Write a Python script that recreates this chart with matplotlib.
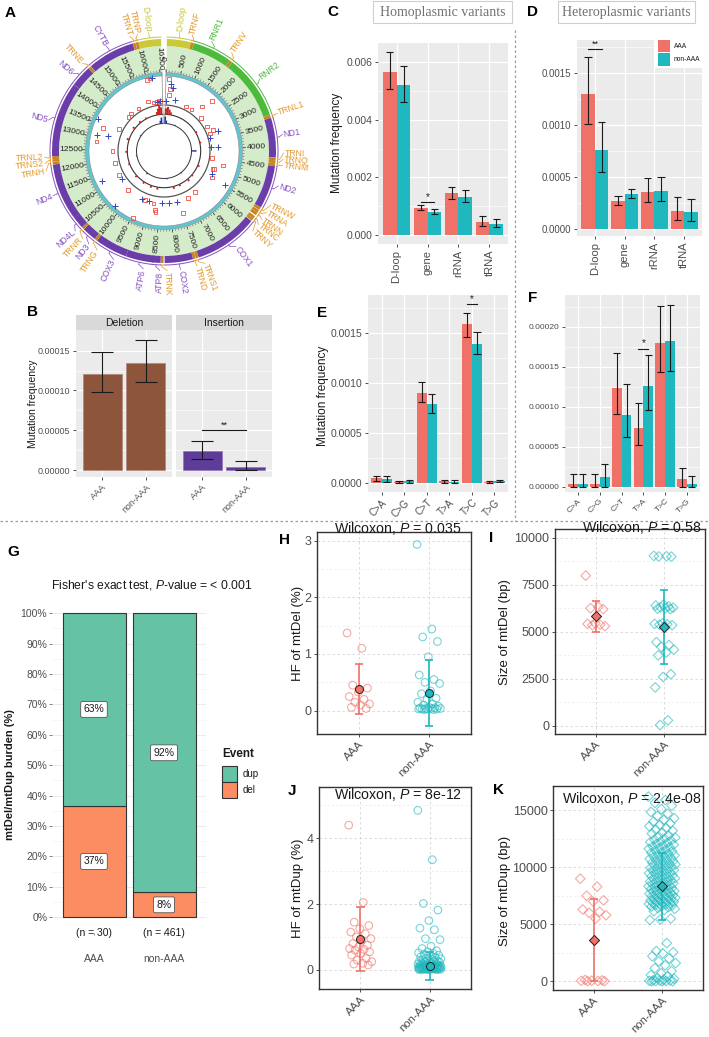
import numpy as np
import matplotlib
matplotlib.use("Agg")
import matplotlib.pyplot as plt
from matplotlib.patches import Rectangle
from matplotlib.lines import Line2D

plt.rcParams['font.family'] = ['Liberation Sans', 'DejaVu Sans']
plt.rcParams['mathtext.fontset'] = 'custom'
plt.rcParams['mathtext.rm'] = 'Liberation Sans'
plt.rcParams['mathtext.it'] = 'Liberation Sans:italic'

# ======================= DATA =======================
genome_length = 16569
gene_names = ['D-loop', 'D-loop', 'TRNF', 'RNR1', 'TRNV', 'RNR2', 'TRNL1', 'ND1', 'TRNI', 'TRNQ', 'TRNM',
              'ND2', 'TRNW', 'TRNA', 'TRNN', 'TRNC', 'TRNY', 'COX1', 'TRNS1', 'TRND', 'COX2', 'TRNK',
              'ATP8', 'ATP6', 'COX3', 'TRNG', 'ND3', 'TRNR', 'ND4L', 'ND4', 'TRNH', 'TRNS2', 'TRNL2',
              'ND5', 'ND6', 'TRNE', 'CYTB', 'TRNT', 'TRNP']
gene_start = [16024, 1, 577, 648, 1602, 1671, 3230, 3307, 4263, 4329, 4402, 4470, 5512, 5587, 5657,
              5761, 5826, 5904, 7446, 7518, 7586, 8295, 8366, 8527, 9207, 9991, 10059, 10405, 10470,
              10760, 12138, 12207, 12266, 12337, 14149, 14674, 14747, 15888, 15956]
gene_end = [16569, 576, 647, 1601, 1670, 3229, 3304, 4262, 4331, 4400, 4469, 5511, 5579, 5655, 5729,
            5826, 5891, 7445, 7514, 7585, 8269, 8364, 8572, 9207, 9990, 10058, 10404, 10469, 10766,
            12137, 12206, 12265, 12336, 14148, 14673, 14742, 15887, 15953, 16023]
gene_type = ['dloop', 'dloop', 'trna', 'rrna', 'trna', 'rrna', 'trna', 'prot', 'trna', 'trna', 'trna',
             'prot', 'trna', 'trna', 'trna', 'trna', 'trna', 'prot', 'trna', 'trna', 'prot', 'trna',
             'prot', 'prot', 'prot', 'trna', 'prot', 'trna', 'prot', 'prot', 'trna', 'trna', 'trna',
             'prot', 'prot', 'trna', 'prot', 'trna', 'trna']

# heteroplasmic / homoplasmic sites (position bp, relative track height 0-1)
red_pos = [16002, 116, 186, 167, 1954, 1824, 1490, 1137, 15821, 16080, 16266, 16424, 15199, 14726,
           14503, 13668, 13413, 12832, 12461, 11812, 11162, 10252, 9259, 8818, 8688, 8656, 9445, 7486,
           7022, 6553, 5449, 5035, 5058, 4511, 3133, 2729, 2158, 3040, 4752, 16118]
red_val = [0.96, 0.93, 0.57, 0.34, 0.82, 0.43, 0.11, 0.09, 0.18, 0.10, 0.10, 0.12, 0.10, 0.11, 0.09,
           0.11, 0.66, 0.78, 0.17, 0.13, 0.15, 0.22, 0.21, 0.24, 0.47, 0.55, 1.00, 0.67, 0.23, 0.16,
           0.30, 0.23, 0.18, 0.05, 0.08, 0.08, 0.10, 0.24, 0.52, 1.00]
blue_pos = [16220, 209, 13658, 13157, 11268, 10930, 16243, 16424, 19, 3393, 3861, 5305, 5453, 3894,
            7634, 8052, 8405, 9073, 9445, 10233, 13064, 3179, 316, 520]
blue_val = [1.00, 0.74, 0.99, 0.39, 0.82, 0.13, 0.11, 0.10, 0.10, 0.03, 0.00, 0.25, 0.85, 0.25,
            0.19, 0.18, 0.17, 0.18, 0.22, 1.00, 0.82, 0.39, 0.62, 0.19]
# density tracks (bin centre bp, bar height)
red_bin_pos = [16150, 16250, 16350, 16450, 60, 180, 300, 420, 2700, 3500, 5200, 6000, 6430, 7130,
               7590, 8750, 9220, 9800, 10500, 11500, 12400, 13300, 14200, 14800, 15300]
red_bin_h = [3, 6, 8.5, 7, 6, 7.5, 5, 2.5, 1.5, 1.5, 2, 1.5, 2.5, 2, 2.5, 2.5, 2.5, 2, 2, 1.5, 2, 2.5,
             2.5, 2, 1.5]
blue_bin_pos = [16300, 16420, 30, 150, 4100, 1000, 6500, 8000, 10000, 12000, 14000]
blue_bin_h = [3, 6, 7, 3, 5, 1, 1, 1, 1.5, 1, 1]

# B: indel mutation frequency
b_groups = ['AAA', 'non-AAA']
b_del = [0.000121, 0.000135]
b_del_lo = [0.000098, 0.000111]
b_del_hi = [0.000148, 0.000163]
b_ins = [0.000024, 0.000004]
b_ins_lo = [0.000014, 0.0000005]
b_ins_hi = [0.000037, 0.000011]

# C: homoplasmic by region
region_cats = ['D-loop', 'gene', 'rRNA', 'tRNA']
c_aaa = [0.00567, 0.00095, 0.00145, 0.00047]
c_aaa_lo = [0.00505, 0.00088, 0.00125, 0.00030]
c_aaa_hi = [0.00635, 0.00104, 0.00167, 0.00065]
c_non = [0.00521, 0.00080, 0.00133, 0.00040]
c_non_lo = [0.00462, 0.00072, 0.00114, 0.00027]
c_non_hi = [0.00587, 0.00089, 0.00155, 0.00057]

# D: heteroplasmic by region
d_aaa = [0.00130, 0.00027, 0.00036, 0.00018]
d_aaa_lo = [0.00101, 0.00023, 0.00026, 0.00009]
d_aaa_hi = [0.00165, 0.00032, 0.00049, 0.00031]
d_non = [0.00076, 0.00034, 0.00037, 0.00017]
d_non_lo = [0.00055, 0.00030, 0.00027, 0.00008]
d_non_hi = [0.00103, 0.00039, 0.00050, 0.00029]

# E / F: substitution types
sub_cats = ['C>A', 'C>G', 'C>T', 'T>A', 'T>C', 'T>G']
e_aaa = [0.000050, 0.000012, 0.000905, 0.000020, 0.001585, 0.000012]
e_aaa_lo = [0.000025, 0.000003, 0.000810, 0.000006, 0.001460, 0.000003]
e_aaa_hi = [0.000072, 0.000022, 0.001010, 0.000036, 0.001700, 0.000021]
e_non = [0.000042, 0.000020, 0.000790, 0.000015, 0.001390, 0.000020]
e_non_lo = [0.000015, 0.000006, 0.000700, 0.000005, 0.001290, 0.000010]
e_non_hi = [0.000070, 0.000034, 0.000890, 0.000028, 0.001510, 0.000030]
f_aaa = [0.000003, 0.000003, 0.000124, 0.000074, 0.000180, 0.000010]
f_aaa_lo = [0.0, 0.0, 0.000091, 0.000052, 0.000143, 0.0]
f_aaa_hi = [0.000016, 0.000016, 0.000168, 0.000105, 0.000226, 0.000024]
f_non = [0.000003, 0.000012, 0.000090, 0.000126, 0.000183, 0.000003]
f_non_lo = [0.0, 0.0, 0.000062, 0.000096, 0.000145, 0.0]
f_non_hi = [0.000016, 0.000028, 0.000128, 0.000165, 0.000228, 0.000013]

# G: mtDel / mtDup burden
g_groups = ['AAA', 'non-AAA']
g_n = [30, 461]
g_del = [0.367, 0.082]
g_dup = [0.633, 0.918]
g_del_lab = ['37%', '8%']
g_dup_lab = ['63%', '92%']

# H: HF of mtDel (%)
h_aaa = [1.37, 1.10, 0.45, 0.40, 0.33, 0.25, 0.20, 0.15, 0.12, 0.10, 0.06, 0.04]
h_non = [2.93, 1.44, 1.30, 1.22, 0.95, 0.63, 0.55, 0.50, 0.48, 0.35, 0.30, 0.22, 0.20, 0.15, 0.12,
         0.10, 0.08, 0.06, 0.05, 0.05, 0.04, 0.04, 0.04, 0.03, 0.03, 0.03, 0.03, 0.02, 0.02]
h_mean = [0.39, 0.32]
h_lo = [-0.05, -0.27]
h_hi = [0.82, 0.90]

# I: size of mtDel (bp)
i_aaa = [7980, 6320, 6250, 6200, 5450, 5420, 5380, 5350, 5300]
i_non = [9030, 9010, 9000, 8990, 6450, 6400, 6350, 6300, 6280, 6250, 6220, 6200, 5450, 5420, 5400,
         5380, 5350, 5300, 4450, 4300, 4200, 4050, 3900, 3750, 2750, 2600, 2050, 300, 50]
i_mean = [5840, 5280]
i_lo = [5010, 3280]
i_hi = [6650, 7230]

# J: HF of mtDup (%)
j_aaa = [4.40, 2.05, 1.45, 1.35, 1.25, 1.15, 1.10, 1.00, 0.95, 0.90, 0.80, 0.75, 0.70, 0.65, 0.62,
         0.60, 0.55, 0.50, 0.45, 0.35, 0.30, 0.25, 0.20, 0.18, 0.15]
j_non = [4.85, 3.35, 2.02, 1.82, 1.50, 1.27, 1.22, 0.95, 0.92, 0.72, 0.65, 0.58, 0.55, 0.52, 0.50,
         0.48, 0.45, 0.42, 0.40, 0.38, 0.36, 0.34, 0.32, 0.30, 0.28, 0.27, 0.26, 0.25, 0.24, 0.23,
         0.22, 0.21, 0.20, 0.19, 0.18, 0.17, 0.16, 0.15, 0.15, 0.14, 0.14, 0.13, 0.13, 0.12, 0.12,
         0.11, 0.11, 0.10, 0.10, 0.10, 0.09, 0.09, 0.09, 0.08, 0.08, 0.08, 0.07, 0.07, 0.07, 0.06,
         0.06, 0.06, 0.05, 0.05, 0.05, 0.05, 0.04, 0.04, 0.04, 0.04, 0.03, 0.03, 0.03, 0.03, 0.02,
         0.02, 0.02, 0.02, 0.01, 0.01, 0.01, 0.01]
j_mean = [0.93, 0.12]
j_lo = [-0.04, -0.30]
j_hi = [1.91, 0.55]

# K: size of mtDup (bp)
k_aaa = [9000, 8300, 7500, 7100, 7000, 6300, 6100, 6000, 5800, 5500, 120, 80, 60, 40, 30, 20, 10]
k_non = [16200, 15900, 15650, 15400, 15100, 14850, 14700, 14500, 14300, 14150, 14000, 13850, 13700,
         13600, 13450, 13300, 13200, 13050, 12950, 12800, 12700, 12600, 12520, 12430, 12350, 12280,
         12200, 12130, 12050, 11980, 11900, 11830, 11760, 11700, 11620, 11550, 11480, 11400, 11330,
         11270, 11200, 11130, 11060, 11000, 10930, 10870, 10800, 10740, 10680, 10610, 10550, 10490,
         10420, 10360, 10300, 10240, 10180, 10120, 10060, 10000, 9950, 9890, 9830, 9770, 9710, 9650,
         9600, 9540, 9480, 9420, 9370, 9310, 9250, 9200, 9140, 9080, 9030, 8970, 8920, 8860, 8810,
         8750, 8700, 8650, 8590, 8540, 8490, 8430, 8380, 8330, 8280, 8230, 8180, 8130, 8080, 8030,
         7980, 7930, 7880, 7830, 7790, 7740, 7690, 7640, 7600, 7550, 7500, 7460, 7410, 7370, 7320,
         7280, 7230, 7190, 7150, 7100, 7060, 7020, 6980, 6940, 6900, 6860, 6820, 6780, 6740, 6700,
         6650, 6600, 6550, 6500, 6430, 6350, 6250, 6150, 5500, 5430, 5380,
         3350, 2650, 2550, 2450, 2200, 2000, 1750, 1600, 1400, 1150, 900, 700, 550, 450, 300, 220,
         150, 100, 80, 60, 40, 30, 20, 10, 5, 0]
k_mean = [3600, 8340]
k_lo = [0, 5400]
k_hi = [7180, 11290]

# ======================= LAYOUT / STYLE =======================
W, H = 709, 1037
fig = plt.figure(figsize=(W / 100, H / 100), dpi=100)

C_AAA = '#F07167'
C_NON = '#1FB8BE'
TXT = '#4D4D4D'


def add_ax(x0, y0, x1, y1, **kw):
    return fig.add_axes([x0 / W, 1 - y1 / H, (x1 - x0) / W, (y1 - y0) / H], **kw)


def ftext(x, y, s, **kw):
    return fig.text(x / W, 1 - y / H, s, **kw)


def frect(x0, y0, x1, y1, **kw):
    fig.add_artist(Rectangle((x0 / W, 1 - y1 / H), (x1 - x0) / W, (y1 - y0) / H,
                             transform=fig.transFigure, **kw))


def fline(xs, ys, **kw):
    fig.add_artist(Line2D([x / W for x in xs], [1 - y / H for y in ys],
                          transform=fig.transFigure, **kw))


def panel_label(x, y, s):
    ftext(x, y, s, fontsize=11, fontweight='bold', ha='center', va='center', color='black')


# ======================= A: circos =======================
GAP = 3.0


def th(pos):
    return np.deg2rad(GAP / 2 + np.asarray(pos, dtype=float) / genome_length * (360 - GAP))


CX, CY = 164, 151
axA = add_ax(CX - 122, CY - 122, CX + 122, CY + 122, projection='polar')
axA.set_theta_zero_location('N')
axA.set_theta_direction(-1)
axA.set_ylim(0, 122)
axA.set_axis_off()

band_col = {'dloop': '#C9C93A', 'trna': '#C98420', 'rrna': '#4CBB3C', 'prot': '#6A3DA8'}
lab_col = {'dloop': '#C6C63C', 'trna': '#E39A2E', 'rrna': '#4DBA3E', 'prot': '#8650C0'}
label_deg = [352.6, 7.4, 13.7, 23.5, 34.5, 53, 71.6, 82, 91, 94, 97, 107, 117, 121, 125, 128, 132,
             143, 160, 164, 172, 178.5, 182, 190, 205, 214, 219, 223, 228, 248, 260.4, 264, 267.1,
             285, 310.4, 317, 331.2, 343.4, 347.2]

t_all0, t_all1 = th(0), th(genome_length)
axA.bar((t_all0 + t_all1) / 2, 26, width=t_all1 - t_all0, bottom=79, color='#D5ECCA',
        edgecolor='none', linewidth=0)
axA.bar((t_all0 + t_all1) / 2, 3.6, width=t_all1 - t_all0, bottom=75, color='#62C4CF',
        edgecolor='#8A8A8A', linewidth=0.4)
axA.vlines(th(np.arange(0, genome_length, 100)), 79, 80.6, color='#444444', lw=0.35)
axA.vlines(th(np.arange(0, genome_length, 500)), 79, 82.0, color='#333333', lw=0.5)
for p in range(0, 16501, 500):
    a = np.rad2deg(th(p))
    rot = 90 - a if a <= 180 else 270 - a
    axA.text(th(p), 92.5, str(p), rotation=rot, rotation_mode='anchor', ha='center', va='center',
             fontsize=6.1, color='#222222')

for nm, s, e, t, la in zip(gene_names, gene_start, gene_end, gene_type, label_deg):
    t0, t1 = th(s), th(e)
    axA.bar((t0 + t1) / 2, 7, width=t1 - t0, bottom=105, color=band_col[t], edgecolor='none',
            linewidth=0)
    tt = np.linspace(t0, t1, 40)
    axA.plot(tt, np.full_like(tt, 114.0), color=lab_col[t], lw=0.7)
    mid = (t0 + t1) / 2
    lr = np.deg2rad(la)
    axA.plot([mid, mid], [114, 116], color=lab_col[t], lw=0.5)
    axA.plot(np.linspace(mid, lr, 10), np.linspace(116, 119.5, 10), color=lab_col[t], lw=0.5)
    if la <= 180:
        rot, ha = 90 - la, 'left'
    else:
        rot, ha = 270 - la, 'right'
    axA.text(lr, 120.5, nm, rotation=rot, rotation_mode='anchor', ha=ha, va='center',
             fontsize=6.2, color=lab_col[t])

axA.scatter(th(red_pos), 47 + np.array(red_val) * 27, marker='s', facecolors='none',
            edgecolors='#F0504A', s=7, linewidths=0.6, zorder=4)
axA.scatter(th(blue_pos), 47 + np.array(blue_val) * 27, marker='+', color='#3848C0', s=14,
            linewidths=0.7, zorder=4)
tt = np.linspace(t_all0, t_all1, 400)
axA.plot(tt, np.full_like(tt, 46.0), color='#555555', lw=0.9)
axA.plot(tt, np.full_like(tt, 36.7), color='#333333', lw=0.8)
axA.plot(tt, np.full_like(tt, 27.5), color='#333333', lw=0.7)
bw = th(130) - th(0)
axA.bar(th(red_bin_pos), red_bin_h, width=bw, bottom=36.7, color='#D0231B', edgecolor='none', zorder=3)
axA.bar(th(blue_bin_pos), blue_bin_h, width=bw, bottom=27.5, color='#2535A5', edgecolor='none', zorder=3)
for tg in (t_all0, t_all1):
    axA.plot([tg, tg], [27.5, 79], color='#9A9A9A', lw=0.6)

panel_label(10, 13, 'A')


# ======================= helpers for ggplot-like panels =======================
def gg_style(ax, xlim, ylim, yticks, ylabels, yminor, fs):
    ax.set_facecolor('#EBEBEB')
    for sp in ax.spines.values():
        sp.set_visible(False)
    ax.set_xlim(xlim)
    ax.set_ylim(ylim)
    ax.set_yticks(yticks)
    ax.set_yticklabels(ylabels)
    ax.set_yticks(yminor, minor=True)
    ax.grid(True, which='major', color='white', lw=0.9)
    ax.grid(True, which='minor', axis='y', color='white', lw=0.45)
    ax.set_axisbelow(True)
    ax.tick_params(which='major', length=2.5, width=0.6, color='#333333', labelcolor=TXT,
                   labelsize=fs, pad=1.5)
    ax.tick_params(which='minor', length=0)


def errbar(ax, x, lo, hi, w, color='#1A1A1A', lw=0.8):
    x = np.asarray(x, dtype=float)
    ax.vlines(x, lo, hi, color=color, lw=lw, zorder=4)
    ax.hlines(lo, x - w / 2, x + w / 2, color=color, lw=lw, zorder=4)
    ax.hlines(hi, x - w / 2, x + w / 2, color=color, lw=lw, zorder=4)


def dodge(ax, cats, aaa, alo, ahi, non, nlo, nhi, capw):
    x = np.arange(1, len(cats) + 1)
    ax.bar(x - 0.225, aaa, width=0.45, color=C_AAA, edgecolor='none')
    ax.bar(x + 0.225, non, width=0.45, color=C_NON, edgecolor='none')
    errbar(ax, x - 0.225, alo, ahi, capw)
    errbar(ax, x + 0.225, nlo, nhi, capw)
    ax.set_xticks(x)


def sig(ax, x0, x1, y, txt, fs=7):
    ax.plot([x0, x1], [y, y], color='#1A1A1A', lw=0.8)
    ax.text((x0 + x1) / 2, y, txt, ha='center', va='bottom', fontsize=fs, color='#1A1A1A')


# ======================= B =======================
b_ylim = (-0.0000088, 0.000176)
b_ticks = [0, 0.00005, 0.0001, 0.00015]
b_lab = ['0.00000', '0.00005', '0.00010', '0.00015']
b_minor = [0.000025, 0.000075, 0.000125]
axB1 = add_ax(76, 330, 172, 477)
axB2 = add_ax(176, 330, 272, 477)
for ax, vals, lo, hi, col, ec in [(axB1, b_del, b_del_lo, b_del_hi, '#8C553C', '#B08878'),
                                  (axB2, b_ins, b_ins_lo, b_ins_hi, '#5E3C98', '#8C78B8')]:
    gg_style(ax, (0.4, 2.6), b_ylim, b_ticks, b_lab, b_minor, 6.5)
    x = np.arange(1, 3)
    ax.bar(x, vals, width=0.9, color=col, edgecolor=ec, linewidth=0.5)
    errbar(ax, x, lo, hi, 0.5, color='#1A1A1A', lw=0.8)
    ax.set_xticks(x)
    ax.set_xticklabels(b_groups, rotation=45, ha='right', va='top', rotation_mode='anchor')
axB2.tick_params(axis='y', which='both', length=0, labelleft=False)
sig(axB2, 1, 2, 0.00005, '**', 6.5)
for x0, x1, s in [(76, 172, 'Deletion'), (176, 272, 'Insertion')]:
    frect(x0, 315, x1, 330, facecolor='#D9D9D9', edgecolor='none')
    ftext((x0 + x1) / 2, 322.5, s, ha='center', va='center', fontsize=7.5, color='#1A1A1A')
ftext(33, 404, 'Mutation frequency', rotation=90, ha='center', va='center', fontsize=7.5,
      color='#1A1A1A')
panel_label(32, 312, 'B')

# ======================= C =======================
axC = add_ax(378, 43, 508, 244)
gg_style(axC, (0.4, 4.6), (-0.00031, 0.00666), [0, 0.002, 0.004, 0.006],
         ['0.000', '0.002', '0.004', '0.006'], [0.001, 0.003, 0.005], 7.5)
dodge(axC, region_cats, c_aaa, c_aaa_lo, c_aaa_hi, c_non, c_non_lo, c_non_hi, 0.25)
axC.set_xticklabels(region_cats, rotation=90, ha='center', va='top', fontsize=8)
sig(axC, 1.775, 2.225, 0.00113, '*', 7)
ftext(337, 143, 'Mutation frequency', rotation=90, ha='center', va='center', fontsize=8.5,
      color='#1A1A1A')
panel_label(333, 12, 'C')

# ======================= D =======================
axD = add_ax(577, 40, 702, 236)
gg_style(axD, (0.4, 4.6), (-0.000064, 0.001813), [0, 0.0005, 0.001, 0.0015],
         ['0.0000', '0.0005', '0.0010', '0.0015'], [0.00025, 0.00075, 0.00125, 0.00175], 7)
dodge(axD, region_cats, d_aaa, d_aaa_lo, d_aaa_hi, d_non, d_non_lo, d_non_hi, 0.25)
axD.set_xticklabels(region_cats, rotation=90, ha='center', va='top', fontsize=8)
sig(axD, 0.775, 1.225, 0.001727, '**', 6.5)
panel_label(533, 12, 'D')
frect(655, 37, 707, 68, facecolor='white', edgecolor='none')
frect(658, 40, 670, 52, facecolor=C_AAA, edgecolor='none')
frect(658, 53.5, 670, 65.5, facecolor=C_NON, edgecolor='none')
ftext(674, 46, 'AAA', ha='left', va='center', fontsize=4.8, color='#1A1A1A')
ftext(674, 59.5, 'non-AAA', ha='left', va='center', fontsize=4.8, color='#1A1A1A')

for x0, x1, s in [(373, 512, 'Homoplasmic variants'), (558, 695, 'Heteroplasmic variants')]:
    frect(x0, 1, x1, 23, facecolor='white', edgecolor='#CFCFCF', linewidth=0.8)
    ftext((x0 + x1) / 2, 12.5, s, ha='center', va='center', fontsize=10, color='#707070',
          family=['Liberation Serif', 'DejaVu Serif'])

# ======================= E =======================
axE = add_ax(368, 295, 508, 492)
gg_style(axE, (0.4, 6.6), (-0.0000867, 0.001877), [0, 0.0005, 0.001, 0.0015],
         ['0.0000', '0.0005', '0.0010', '0.0015'], [0.00025, 0.00075, 0.00125, 0.00175], 7.5)
dodge(axE, sub_cats, e_aaa, e_aaa_lo, e_aaa_hi, e_non, e_non_lo, e_non_hi, 0.32)
axE.set_xticklabels(sub_cats, rotation=45, ha='right', va='top', rotation_mode='anchor', fontsize=7)
sig(axE, 4.775, 5.225, 0.00179, '*', 7)
ftext(323, 396, 'Mutation frequency', rotation=90, ha='center', va='center', fontsize=8.5,
      color='#1A1A1A')
panel_label(322, 313, 'E')

# ======================= F =======================
axF = add_ax(565, 295, 700, 492)
gg_style(axF, (0.4, 6.6), (-0.0000066, 0.00024), [0, 0.00005, 0.0001, 0.00015, 0.0002],
         ['0.00000', '0.00005', '0.00010', '0.00015', '0.00020'],
         [0.000025, 0.000075, 0.000125, 0.000175, 0.000225], 6)
dodge(axF, sub_cats, f_aaa, f_aaa_lo, f_aaa_hi, f_non, f_non_lo, f_non_hi, 0.32)
axF.set_xticklabels(sub_cats, rotation=45, ha='right', va='top', rotation_mode='anchor', fontsize=6)
sig(axF, 3.775, 4.225, 0.000173, '*', 7)
panel_label(533, 298, 'F')

fline([0, 709], [521, 521], color='#9A9A9A', lw=0.9, linestyle=(0, (2, 2)))
fline([515, 515], [30, 521], color='#9A9A9A', lw=0.9, linestyle=(0, (2, 2)))

# ======================= G =======================
axG = add_ax(52, 598, 206, 932.5)
axG.set_xlim(0.4, 2.6)
axG.set_ylim(-0.05, 1.05)
for sp in axG.spines.values():
    sp.set_visible(False)
axG.set_yticks(np.arange(0, 1.01, 0.1))
axG.set_yticklabels([f'{int(round(v * 100))}%' for v in np.arange(0, 1.01, 0.1)])
axG.set_yticks(np.arange(0.05, 1.0, 0.1), minor=True)
axG.grid(True, which='major', axis='y', color='#EBEBEB', lw=0.7)
axG.grid(True, which='minor', axis='y', color='#F3F3F3', lw=0.4)
axG.set_axisbelow(True)
xg = np.arange(1, 3)
axG.bar(xg, g_del, width=0.9, color='#FC8D62', edgecolor='#333333', linewidth=0.8)
axG.bar(xg, g_dup, bottom=g_del, width=0.9, color='#66C2A5', edgecolor='#333333', linewidth=0.8)
box = dict(boxstyle='round,pad=0.28,rounding_size=0.15', facecolor='white', edgecolor='#555555',
           linewidth=0.6)
for i in range(2):
    axG.text(xg[i], g_del[i] / 2, g_del_lab[i], ha='center', va='center', fontsize=7.5,
             color='#1A1A1A', bbox=box)
    axG.text(xg[i], g_del[i] + g_dup[i] / 2, g_dup_lab[i], ha='center', va='center',
             fontsize=7.5, color='#1A1A1A', bbox=box)
    axG.text(xg[i], -0.052, f'(n = {g_n[i]})', ha='center', va='center', fontsize=7.5,
             color='#1A1A1A')
axG.set_xticks(xg)
axG.set_xticklabels(g_groups)
axG.tick_params(axis='x', length=1.5, width=0.5, color='#555555', labelcolor=TXT, labelsize=7.5,
                pad=14)
axG.tick_params(axis='y', length=2, width=0.5, color='#555555', labelcolor=TXT, labelsize=7.5,
                pad=1.5)
axG.tick_params(which='minor', length=0)
ftext(152, 585, r"Fisher's exact test, $\mathit{P}$-value = < 0.001", ha='center', va='center',
      fontsize=8.7, color='#1A1A1A')
ftext(10, 775, 'mtDel/mtDup burden (%)', rotation=90, ha='center', va='center', fontsize=8,
      fontweight='bold', color='#1A1A1A')
ftext(222, 754, 'Event', ha='left', va='center', fontsize=8.5, fontweight='bold', color='#1A1A1A')
frect(222, 766, 237, 782, facecolor='#66C2A5', edgecolor='#333333', linewidth=0.8)
frect(222, 782, 237, 798, facecolor='#FC8D62', edgecolor='#333333', linewidth=0.8)
ftext(243, 774, 'dup', ha='left', va='center', fontsize=7, color='#1A1A1A')
ftext(243, 790, 'del', ha='left', va='center', fontsize=7, color='#1A1A1A')
panel_label(13, 552, 'G')


# ======================= H - K =======================
def bw_style(ax, ylim, yticks, yminor):
    ax.set_facecolor('white')
    for sp in ax.spines.values():
        sp.set_color('#333333')
        sp.set_linewidth(1.0)
    ax.set_xlim(0.4, 2.6)
    ax.set_ylim(ylim)
    ax.set_yticks(yticks)
    ax.set_yticklabels([str(v) for v in yticks])
    ax.set_yticks(yminor, minor=True)
    ax.grid(True, which='major', color='#D6D6D6', lw=0.6, linestyle=(0, (3, 3)))
    ax.grid(True, which='minor', axis='y', color='#E8E8E8', lw=0.5, linestyle=(0, (3, 3)))
    ax.set_axisbelow(True)
    ax.set_xticks([1, 2])
    ax.set_xticklabels(['AAA', 'non-AAA'], rotation=45, ha='right', va='top', rotation_mode='anchor')
    ax.tick_params(which='major', length=2.5, width=0.6, color='#333333', labelcolor=TXT,
                   labelsize=9, pad=1.5)
    ax.tick_params(axis='x', labelsize=8.2)
    ax.tick_params(which='minor', length=0)


def jitter(n, w):
    return ((np.arange(n) * 0.6180339887) % 1.0 - 0.5) * 2 * w


def strip(ax, aaa, non, mean, lo, hi, marker, s, jw):
    for i, (vals, col) in enumerate([(aaa, C_AAA), (non, C_NON)]):
        vals = np.asarray(vals, dtype=float)
        ax.scatter(i + 1 + jitter(len(vals), jw), vals, marker=marker, facecolors='none',
                   edgecolors=col, s=s, linewidths=0.8, alpha=0.6, zorder=3)
    for i, col in enumerate([C_AAA, C_NON]):
        errbar(ax, [i + 1], [lo[i]], [hi[i]], 0.12, color=col, lw=1.2)
        ax.scatter([i + 1], [mean[i]], marker=marker, s=s * 1.1, facecolors=col,
                   edgecolors='#222222', linewidths=0.7, zorder=5)


def wilcox(xc_px, y_px, p):
    ftext(xc_px, y_px, r'Wilcoxon, $\mathit{P}$ = ' + p, ha='center', va='baseline', fontsize=10.2,
          color='#1A1A1A')


axH = add_ax(317, 532, 471, 734)
bw_style(axH, (-0.41, 3.15), [0, 1, 2, 3], [0.5, 1.5, 2.5])
strip(axH, h_aaa, h_non, h_mean, h_lo, h_hi, 'o', 30, 0.17)
wilcox(398, 533, '0.035')
ftext(298, 633, 'HF of mtDel (%)', rotation=90, ha='center', va='center', fontsize=9.5,
      color='#1A1A1A')
panel_label(285, 540, 'H')

axI = add_ax(555, 529, 705, 734)
bw_style(axI, (-425, 10456), [0, 2500, 5000, 7500, 10000], [1250, 3750, 6250, 8750])
strip(axI, i_aaa, i_non, i_mean, i_lo, i_hi, 'D', 24, 0.15)
wilcox(642, 532, '0.58')
ftext(505, 632, 'Size of mtDel (bp)', rotation=90, ha='center', va='center', fontsize=9.5,
      color='#1A1A1A')
panel_label(491, 538, 'I')

axJ = add_ax(319, 787, 471, 989)
bw_style(axJ, (-0.58, 5.56), [0, 2, 4], [1, 3, 5])
strip(axJ, j_aaa, j_non, j_mean, j_lo, j_hi, 'o', 30, 0.17)
wilcox(398, 799, '8e-12')
ftext(298, 888, 'HF of mtDup (%)', rotation=90, ha='center', va='center', fontsize=9.5,
      color='#1A1A1A')
panel_label(292, 791, 'J')

axK = add_ax(553, 786, 703, 990)
bw_style(axK, (-762, 17128), [0, 5000, 10000, 15000], [2500, 7500, 12500])
strip(axK, k_aaa, k_non, k_mean, k_lo, k_hi, 'D', 24, 0.2)
wilcox(632, 803, '2.4e-08')
ftext(505, 891, 'Size of mtDup (bp)', rotation=90, ha='center', va='center', fontsize=9.5,
      color='#1A1A1A')
panel_label(499, 790, 'K')

fig.savefig('out.png', dpi=100)
